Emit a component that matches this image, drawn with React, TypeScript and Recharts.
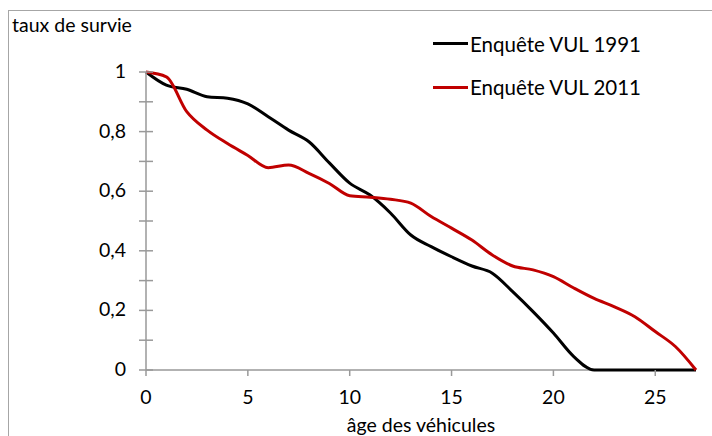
import { LineChart, Line, XAxis, YAxis, ReferenceLine } from "recharts";

const AGES = [0, 1, 2, 3, 4, 5, 6, 7, 8, 9, 10, 11, 12, 13, 14, 15, 16, 17, 18, 19, 20, 21, 22, 23, 24, 25, 26, 27];
const VUL_1991 = [1, 0.956, 0.942, 0.917, 0.912, 0.893, 0.85, 0.805, 0.766, 0.695, 0.627, 0.587, 0.527, 0.453, 0.414, 0.38, 0.349, 0.325, 0.263, 0.196, 0.124, 0.045, 0, 0, 0, 0, 0, 0];
const VUL_2011 = [1, 0.984, 0.867, 0.805, 0.76, 0.72, 0.679, 0.688, 0.66, 0.626, 0.585, 0.58, 0.573, 0.56, 0.515, 0.476, 0.436, 0.386, 0.349, 0.336, 0.313, 0.275, 0.24, 0.212, 0.179, 0.129, 0.078, 0];
const X_TICKS = [0, 5, 10, 15, 20, 25];
const Y_TICKS = [0, 0.1, 0.2, 0.3, 0.4, 0.5, 0.6, 0.7, 0.8, 0.9, 1];

const SERIES = [
    { key: "v1991", name: "Enquête VUL 1991", color: "#000000" },
    { key: "v2011", name: "Enquête VUL 2011", color: "#c00000" },
];

const data = AGES.map((age, i) => ({ age, v1991: VUL_1991[i], v2011: VUL_2011[i] }));

const FONT = "Lato, 'Open Sans', sans-serif";
const FS = 19.5;
const AXIS = "#999999";

// y ticks cross the axis, labels only every 0.2
function YTick(props: any) {
    const { x, y, payload } = props;
    const axisX = x + 14;
    const v = payload.value;
    const major = Math.round(v * 10) % 2 === 0;
    return (
        <g>
            <line x1={axisX - 7} x2={axisX + 7} y1={y} y2={y} stroke={AXIS} strokeWidth={1.5} />
            {major && (
                <text x={x - 6} y={y} dy={6} textAnchor="end" fontSize={FS} fill="#000" fontFamily={FONT}>
                    {String(Math.round(v * 10) / 10).replace(".", ",")}
                </text>
            )}
        </g>
    );
}

export default function App() {
    return (
        <div style={{ position: "fixed", left: 0, top: 0, width: 712, height: 436, overflow: "hidden", background: "#fff" }}>
            <div style={{ position: "absolute", left: 8, top: 10, width: 760, height: 480, border: "1.5px solid #a6a6a6" }} />
            <div style={{ position: "absolute", left: 12, top: 13, fontFamily: FONT, fontSize: FS, color: "#000" }}>
                taux de survie
            </div>
            <div style={{ position: "absolute", left: 433, top: 22, fontFamily: FONT, fontSize: 20.5, color: "#000" }}>
                {SERIES.map((s) => (
                    <div key={s.key} style={{ display: "flex", alignItems: "center", height: 43.5 }}>
                        <div style={{ width: 35, height: 3, background: s.color, marginRight: 2 }} />
                        <span>{s.name}</span>
                    </div>
                ))}
            </div>
            <div style={{ position: "absolute", left: 0, top: 0 }}>
                <LineChart width={712} height={436} data={data} margin={{ top: 72, right: 16, bottom: 36, left: 86 }}>
                    <XAxis
                        dataKey="age"
                        type="number"
                        domain={[0, 27]}
                        ticks={X_TICKS}
                        interval={0}
                        axisLine={false}
                        tickLine={{ stroke: AXIS, strokeWidth: 1.5 }}
                        tickSize={6}
                        tickMargin={14}
                        tick={{ fill: "#000", fontSize: FS, fontFamily: FONT }}
                        height={30}
                        label={{ value: "âge des véhicules", position: "bottom", offset: 18, fill: "#000", fontSize: FS, fontFamily: FONT }}
                    />
                    <YAxis
                        type="number"
                        domain={[0, 1]}
                        ticks={Y_TICKS}
                        interval={0}
                        width={60}
                        axisLine={{ stroke: AXIS, strokeWidth: 1.5 }}
                        tickLine={false}
                        tickSize={6}
                        tickMargin={8}
                        tick={<YTick />}
                    />
                    <ReferenceLine y={0} stroke={AXIS} strokeWidth={1.5} />
                    {SERIES.map((s) => (
                        <Line
                            key={s.key}
                            dataKey={s.key}
                            name={s.name}
                            type="monotone"
                            stroke={s.color}
                            strokeWidth={3}
                            dot={false}
                            isAnimationActive={false}
                        />
                    ))}
                </LineChart>
            </div>
        </div>
    );
}
